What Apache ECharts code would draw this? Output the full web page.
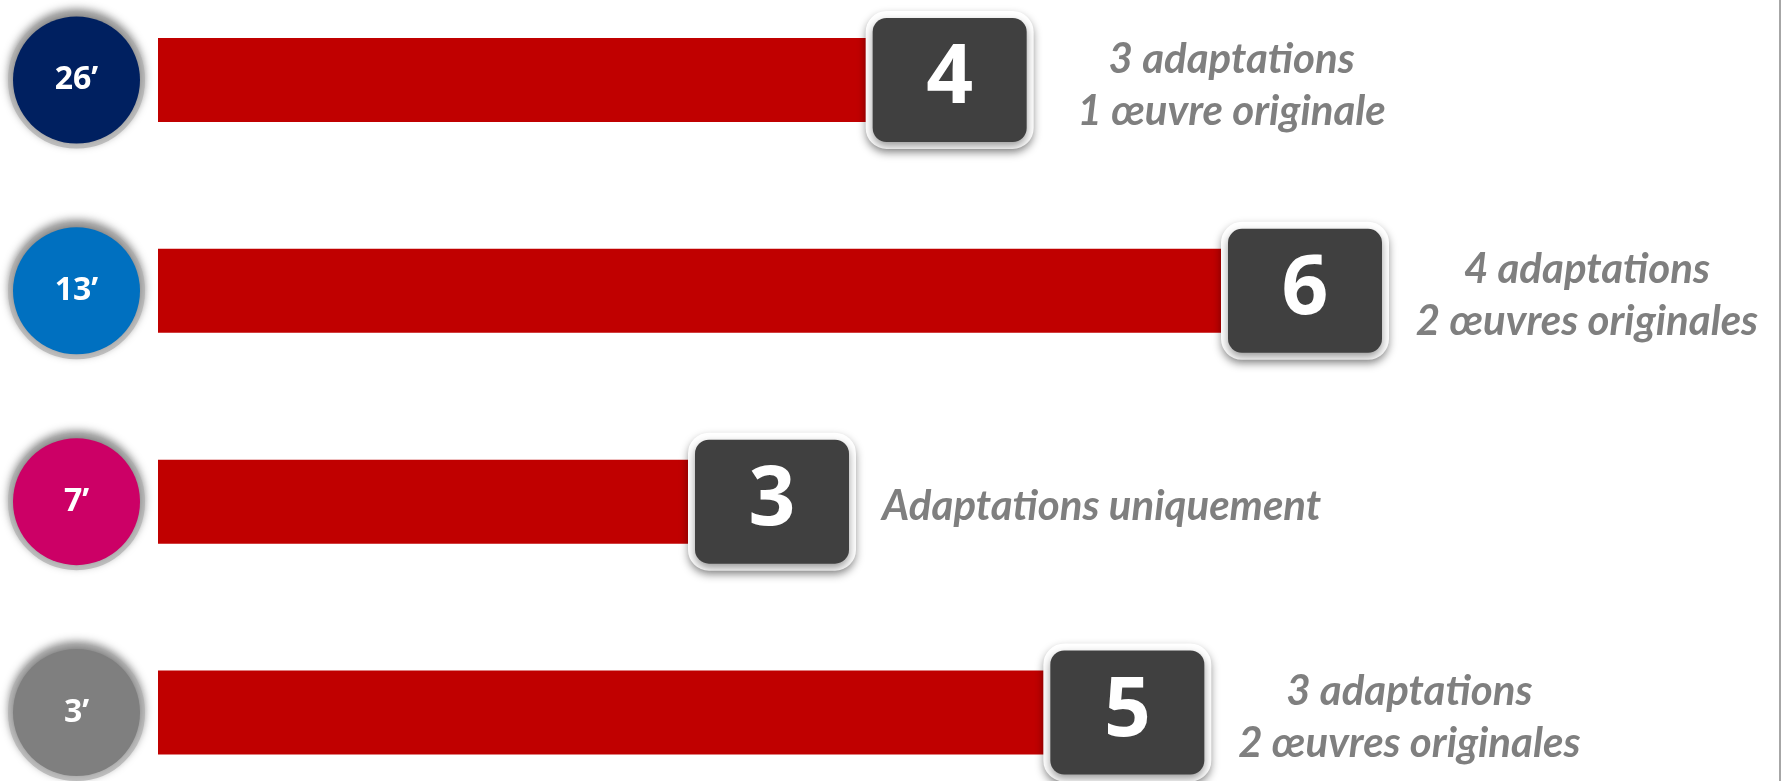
<!DOCTYPE html>
<html>
<head>
<meta charset="utf-8">
<script src="https://cdn.jsdelivr.net/npm/echarts@6/dist/echarts.min.js"></script>
<style>
  html, body { margin: 0; padding: 0; background: #fff; }
  #main { width: 1781px; height: 781px; }
</style>
</head>
<body>
<div id="main"></div>
<script>
// durées des formats (cercles à gauche)
var durations = ['26’', '13’', '7’', '3’'];
var counts = [4, 6, 3, 5];
var notes = [
    '3 adaptations\n1 œuvre originale',
    '4 adaptations\n2 œuvres originales',
    'Adaptations uniquement',
    '3 adaptations\n2 œuvres originales'
];
var dotColors = ['#002060', '#0070c0', '#cc0066', '#7f7f7f'];

// un style rich par pastille
var dotRich = {};
dotColors.forEach(function (c, i) {
    dotRich['d' + i] = {
        width: 127,
        height: 127,
        lineHeight: 127,
        align: 'center',
        backgroundColor: c,
        borderColor: '#bfbfbf',
        borderWidth: 5,
        borderRadius: 64,
        color: '#fff',
        fontSize: 32,
        fontWeight: 'bold',
        fontFamily: 'Open Sans',
        shadowColor: 'rgba(0,0,0,0.35)',
        shadowBlur: 8,
        shadowOffsetY: -3
    };
});

var noteData = counts.map(function (v, i) {
    var item = { value: v };
    // une seule ligne : texte collé à droite de la boîte
    if (notes[i].indexOf('\n') < 0) {
        item.label = { align: 'left', distance: 191 };
    }
    return item;
});

var option = {
    backgroundColor: '#fff',
    animation: false,
    grid: { left: 158, right: 24, top: 80, bottom: 67, containLabel: false },
    xAxis: { type: 'value', min: 0, max: 9, show: false },
    yAxis: {
        type: 'category',
        data: durations,
        inverse: true,
        boundaryGap: false,
        axisLine: { show: false },
        axisTick: { show: false },
        splitLine: { show: false },
        axisLabel: {
            margin: 18,
            formatter: function (value, idx) {
                return '{d' + idx + '|' + value + '}';
            },
            rich: dotRich
        }
    },
    graphic: [{
        type: 'rect',
        shape: { x: 1779, y: 0, width: 2, height: 781 },
        style: { fill: '#a6a6a6' }
    }],
    series: [
        {
            type: 'bar',
            data: counts,
            barWidth: 84,
            itemStyle: { color: '#c00000' },
            label: {
                show: true,
                position: 'right',
                distance: 4,
                formatter: '{n|{c}}',
                rich: {
                    n: {
                        width: 154,
                        height: 124,
                        lineHeight: 124,
                        align: 'center',
                        backgroundColor: '#404040',
                        borderColor: '#fff',
                        borderWidth: 7,
                        borderRadius: 14,
                        color: '#fff',
                        fontSize: 82,
                        fontWeight: 'bold',
                        fontFamily: 'Open Sans',
                        shadowColor: 'rgba(0,0,0,0.4)',
                        shadowBlur: 8,
                        shadowOffsetY: 4
                    }
                }
            },
            z: 3
        },
        {
            type: 'bar',
            data: noteData,
            barWidth: 84,
            barGap: '-100%',
            itemStyle: { color: 'transparent' },
            label: {
                show: true,
                position: 'right',
                distance: 363,
                align: 'center',
                offset: [0, 5],
                formatter: function (p) { return notes[p.dataIndex]; },
                color: '#7f7f7f',
                fontFamily: 'Lato',
                fontStyle: 'italic',
                fontWeight: 'bold',
                fontSize: 42,
                lineHeight: 52
            },
            z: 2
        }
    ]
};

var chart = echarts.init(document.getElementById('main'));
chart.setOption(option);
</script>
</body>
</html>
